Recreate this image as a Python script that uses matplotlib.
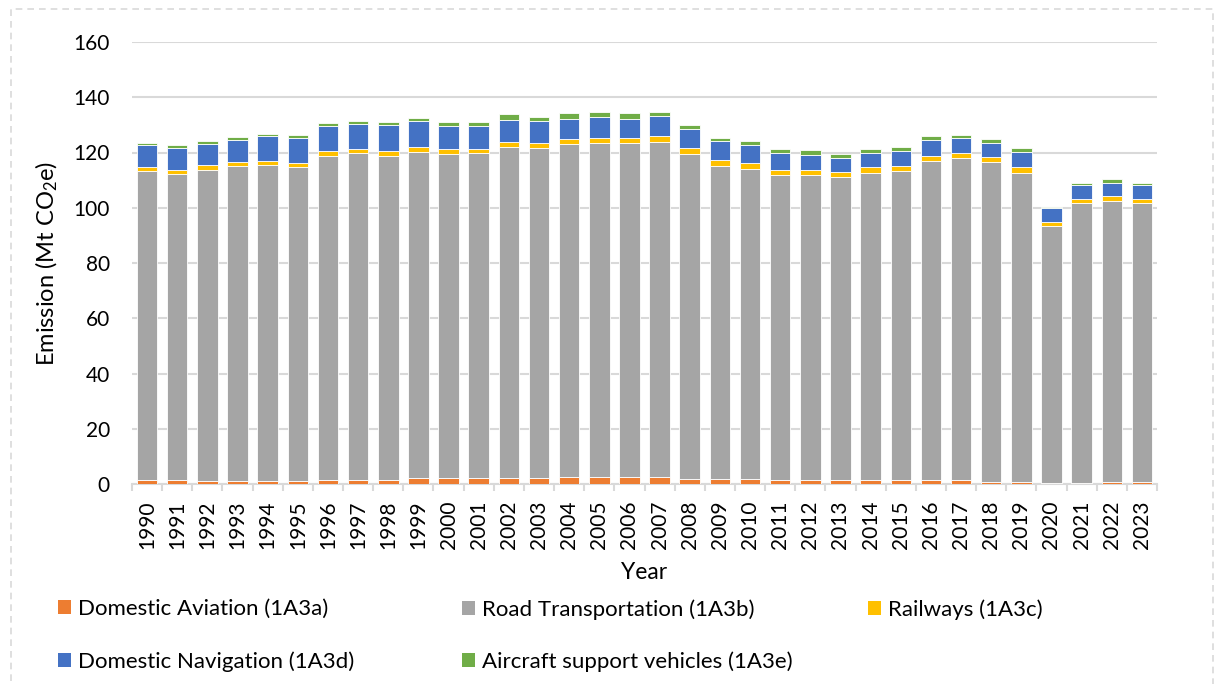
import matplotlib
matplotlib.use('Agg')
import matplotlib.pyplot as plt
import numpy as np
from matplotlib.patches import Rectangle, Patch

plt.rcParams['font.family'] = ['Lato', 'DejaVu Sans']
plt.rcParams['mathtext.fontset'] = 'custom'
plt.rcParams['mathtext.rm'] = 'Lato'
plt.rcParams['mathtext.it'] = 'Lato:italic'

years = list(range(1990, 2024))

aviation = [1.5, 1.5, 1.0, 1.0, 1.0, 1.0, 1.5, 1.5, 1.5, 2.1, 2.1, 2.1, 2.1, 2.1, 2.6, 2.6, 2.6,
            2.6, 1.9, 1.9, 1.9, 1.4, 1.4, 1.4, 1.4, 1.4, 1.4, 1.4, 0.9, 0.9, 0.3, 0.4, 0.9, 0.9]
road = [111.7, 110.8, 112.8, 114.1, 114.6, 113.6, 117.4, 118.2, 117.4, 118.2, 117.2, 117.7, 120.0,
        119.5, 120.5, 120.8, 120.8, 121.3, 117.4, 113.3, 112.2, 110.6, 110.6, 109.6, 111.1, 111.9,
        115.5, 116.5, 115.6, 111.8, 93.1, 101.3, 101.7, 100.8]
railways = [1.5, 1.5, 1.8, 1.5, 1.4, 1.6, 1.8, 1.5, 1.8, 1.8, 1.9, 1.4, 1.8, 1.8, 1.8, 2.0, 2.0,
            2.0, 2.3, 2.2, 2.0, 1.8, 1.8, 1.8, 2.2, 1.8, 2.0, 1.8, 1.8, 1.9, 1.3, 1.5, 1.8, 1.5]
navigation = [7.9, 8.0, 7.5, 7.9, 8.9, 9.2, 8.9, 9.2, 9.3, 9.3, 8.4, 8.4, 8.0, 8.0, 7.3, 7.5, 6.8,
              7.4, 7.0, 6.6, 6.5, 6.0, 5.3, 5.1, 5.1, 5.6, 5.5, 5.7, 5.1, 5.6, 5.1, 4.9, 4.7, 4.9]
support = [1.0, 0.9, 0.9, 1.0, 0.9, 0.9, 1.0, 1.0, 0.9, 1.0, 1.3, 1.3, 1.9, 1.3, 2.0, 1.8, 2.0,
           1.4, 1.5, 1.4, 1.4, 1.4, 1.7, 1.6, 1.4, 1.4, 1.5, 0.8, 1.4, 1.4, 0.5, 1.0, 1.3, 1.0]

series = [aviation, road, railways, navigation, support]
labels = ['Domestic Aviation (1A3a)', 'Road Transportation (1A3b)', 'Railways (1A3c)',
          'Domestic Navigation (1A3d)', 'Aircraft support vehicles (1A3e)']
colors = ['#ED7D31', '#A5A5A5', '#FFC000', '#4472C4', '#70AD47']

W, H = 1217, 684
fig = plt.figure(figsize=(W / 100, H / 100), dpi=100)
ax = fig.add_axes([132 / W, 1 - 484 / H, (1157 - 132) / W, (484 - 42) / H])

x = np.arange(len(years))
bottom = np.zeros(len(years))
for vals, c in zip(series, colors):
    ax.bar(x, vals, width=0.68, bottom=bottom, color=c, edgecolor='white', linewidth=0.6, zorder=3)
    bottom += np.array(vals)

ax.set_xlim(-0.5, len(years) - 0.5)
ax.set_ylim(0, 160)
ax.set_yticks(range(0, 161, 20))
ax.grid(axis='y', color='#D9D9D9', linewidth=1.5, zorder=0)
ax.set_xticks(x)
ax.set_xticklabels([str(y) for y in years], rotation=90, fontsize=15)
ax.set_xticks(np.arange(-0.5, len(years), 1), minor=True)
ax.tick_params(axis='x', which='major', length=0, pad=12)
ax.tick_params(axis='x', which='minor', length=5, width=1.5, color='#D9D9D9')
ax.tick_params(axis='y', length=0, pad=16, labelsize=15)
for s in ['top', 'right', 'left']:
    ax.spines[s].set_visible(False)
ax.spines['bottom'].set_color('#D9D9D9')
ax.spines['bottom'].set_linewidth(1.5)

ax.set_xlabel('Year', fontsize=16.5, labelpad=9)
ax.set_ylabel('Emission (Mt CO$_2$e)', fontsize=17, labelpad=10)

# legend entries, placed like the Excel layout
leg_pos = [(58, 599), (462, 599), (868, 599), (58, 651), (462, 651)]
for lab, c, (lx, ly) in zip(labels, colors, leg_pos):
    fig.legend(handles=[Patch(facecolor=c, edgecolor='none')], labels=[lab],
               loc='upper left', bbox_to_anchor=(lx / W, 1 - ly / H), frameon=False,
               fontsize=16, handlelength=0.6, handleheight=0.6, handletextpad=0.32,
               borderaxespad=0, borderpad=0)

fig.patches.append(Rectangle((11 / W, -0.05), (1213 - 11) / W, 1 - 9 / H + 0.05,
                             transform=fig.transFigure, fill=False, edgecolor='#D9D9D9',
                             linestyle=(0, (4, 3)), linewidth=1.2))

fig.savefig('out.png', dpi=100)
